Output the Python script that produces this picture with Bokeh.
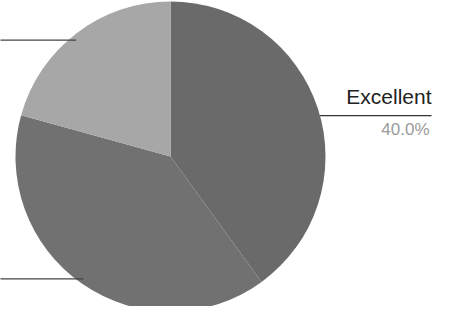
import math
from bokeh.plotting import figure
from bokeh.models import Range1d, ColumnDataSource
from bokeh.core.properties import value
from bokeh.embed import file_html
from bokeh.resources import INLINE

# Data
categories = ["Excellent", "Good", "Fair"]
percent = [40.0, 39.3, 20.7]

# Layout / style
W, H = 434, 306
cx, cy, r = 170, H - 156, 155
colors = ["#6a6a6a", "#717171", "#a7a7a7"]
leader_dy = {"Excellent": -7, "Good": 5, "Fair": -7}

p = figure(width=W, height=H, output_backend="svg", toolbar_location=None,
           x_range=Range1d(0, W), y_range=Range1d(0, H), min_border=0)
p.axis.visible = False
p.grid.visible = False
p.outline_line_color = None
p.background_fill_color = "#ffffff"
p.border_fill_color = "#ffffff"

total = sum(percent)
starts, ends, mids = [], [], []
cum = 0.0
for v in percent:
    a0 = math.pi / 2 - 2 * math.pi * (cum + v) / total
    a1 = math.pi / 2 - 2 * math.pi * cum / total
    starts.append(a0)
    ends.append(a1)
    mids.append((a0 + a1) / 2)
    cum += v

src = ColumnDataSource(dict(start=starts, end=ends, color=colors, cat=categories))
p.wedge(x=cx, y=cy, radius=r, start_angle="start", end_angle="end",
        direction="anticlock", fill_color="color", line_color=None, source=src)

# leader lines and label
for cat, m in zip(categories, mids):
    ay = cy + r * math.sin(m) + leader_dy[cat]
    dx = math.sqrt(max(r * r - (ay - cy) ** 2, 0))
    if cat == "Excellent":
        ax = cx + dx
        p.line([ax, 431], [ay, ay], line_color="#333333", line_width=1.3)
        p.text([431], [ay + 8], text=["Excellent"], text_align="right",
               text_baseline="bottom", text_font=value("Liberation Sans"),
               text_font_size="21px", text_color="#222222")
        p.text([429], [ay - 4], text=[f"{percent[0]:.1f}%"], text_align="right",
               text_baseline="top", text_font=value("Liberation Sans"),
               text_font_size="17px", text_color="#9a9a9a")
    else:
        ax = cx - dx + 8
        p.line([ax, -20], [ay, ay], line_color="#444444", line_width=1.3)

open("out.html", "w").write(file_html(p, INLINE))
